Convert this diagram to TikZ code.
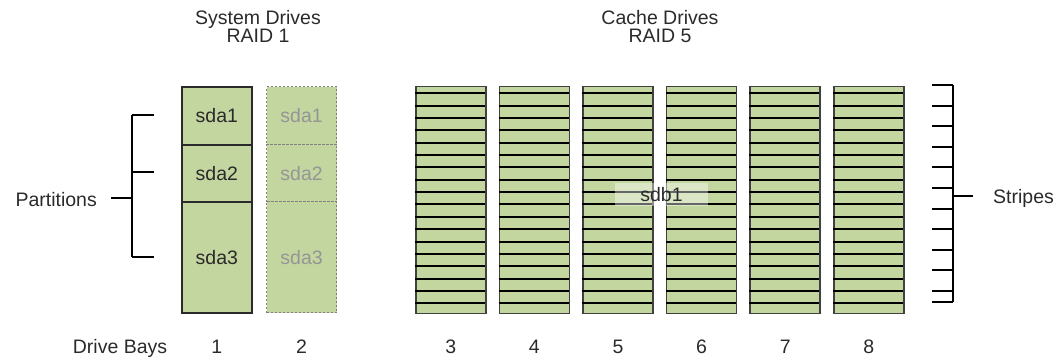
\documentclass[tikz,border=0pt]{standalone}
\usepackage{fontspec}
\setmainfont{Liberation Sans}
\definecolor{drivegreen}{HTML}{C4D6A0}
\definecolor{txt}{HTML}{2A2A2A}
\definecolor{ghost}{HTML}{959595}
\begin{document}
\begin{tikzpicture}[x=1pt,y=-1pt,
  font=\fontsize{19.5}{17.5}\selectfont,
  lbl/.style={inner sep=0pt, text=txt},
  part/.style={draw=txt, line width=1.6pt, fill=drivegreen, minimum width=70pt, inner sep=0pt, text=txt, anchor=north west},
  mirror/.style={draw=black!50, dash pattern=on 2pt off 2pt, line width=1.2pt, fill=drivegreen, minimum width=70pt, inner sep=0pt, text=ghost, anchor=north west},
  cachedrive/.style={draw=black!75, line width=1.6pt, fill=drivegreen, minimum width=70pt, minimum height=227pt, inner sep=0pt, anchor=north west},
  stripeline/.style={draw=black, line width=1.3pt},
  bracket/.style={draw=black, line width=1.5pt},
]
\useasboundingbox (0,0) rectangle (1063,357);

% titles
\node[lbl, align=center, anchor=base] (systitle) at (258,42) {System Drives\\RAID 1};
\node[lbl, align=center, anchor=base] (cachetitle) at (660,42) {Cache Drives\\RAID 5};

% system drive 1
\node[part, minimum height=58pt] (a1) at (181,86) {sda1};
\node[part, minimum height=57pt] (a2) at (181,144) {sda2};
\node[part, minimum height=111pt] (a3) at (181,201) {sda3};
% system drive 2 (mirror)
\node[mirror, minimum height=58pt] (b1) at (266,86) {sda1};
\node[mirror, minimum height=57pt] (b2) at (266,144) {sda2};
\node[mirror, minimum height=111pt] (b3) at (266,201) {sda3};

% cache drives
\foreach \i in {0,...,5}{
  \pgfmathsetmacro{\xo}{415+83.6*\i}
  \node[cachedrive] (c\i) at (\xo,85.5) {};
  \foreach \k in {0,...,17}{
    \pgfmathsetmacro{\yo}{round(93.3+12.35*\k)}
    \draw[stripeline] (\xo,\yo) -- (\xo+70,\yo);
  }
}
\node[lbl, fill=white, fill opacity=0.4, text opacity=1, minimum width=93pt, minimum height=23pt] (sdb) at (661.5,194.5) {sdb1};

% partitions bracket
\coordinate (pt) at (132,115);
\coordinate (pm) at (132,172);
\coordinate (pb) at (132,257);
\coordinate (pc) at (132,198);
\draw[bracket] (pt) -- (pb);
\draw[bracket] (pt) -- ++(22,0);
\draw[bracket] (pm) -- ++(22,0);
\draw[bracket] (pb) -- ++(22,0);
\node[lbl, anchor=base east] (partlbl) at (97,206) {Partitions};
\draw[bracket] (pc) -- ++(-21,0);

% stripes axis
\coordinate (st) at (953,85);
\coordinate (sb) at (953,302);
\coordinate (sc) at (953,196);
\draw[bracket] (st) -- (sb);
\foreach \k in {0,...,10}{
  \pgfmathsetmacro{\ty}{round(85+20.6*\k)}
  \draw[bracket] (953,\ty) -- ++(-21,0);
}
\draw[bracket] (sb) -- ++(-21,0);
\draw[bracket] (sc) -- ++(20,0);
\node[lbl, anchor=base west] (stripelbl) at (993,203) {Stripes};

% drive bays
\node[lbl, anchor=base] (baylbl) at (120,353.5) {Drive Bays};
\node[lbl, anchor=base] (n1) at (a1.center |- 0,353.5) {1};
\node[lbl, anchor=base] (n2) at (b1.center |- 0,353.5) {2};
\foreach \i/\n in {0/3,1/4,2/5,3/6,4/7,5/8}{
  \node[lbl, anchor=base] (n\n) at (c\i.center |- 0,353.5) {\n};
}
\end{tikzpicture}
\end{document}
